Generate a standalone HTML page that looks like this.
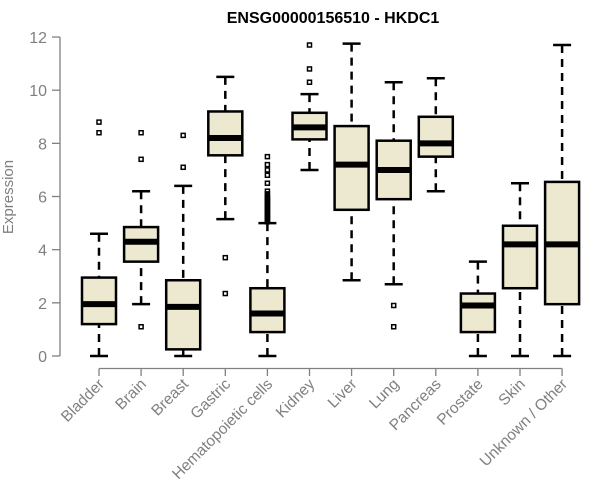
<!DOCTYPE html>
<html><head><meta charset="utf-8"><style>
body{margin:0;background:#fff;}
svg{display:block;font-family:"Liberation Sans",sans-serif;}
</style></head><body>
<svg id="chart" width="600" height="500">
<text x="333" y="23" text-anchor="middle" font-weight="bold" font-size="16">ENSG00000156510 - HKDC1</text>
<text transform="translate(13,197) rotate(-90)" text-anchor="middle" font-size="15" fill="#808080">Expression</text>
<g id="axes"></g>
<g id="marks"></g>
</svg>
<script>
const categories=["Bladder","Brain","Breast","Gastric","Hematopoietic cells","Kidney","Liver","Lung","Pancreas","Prostate","Skin","Unknown / Other"];
const lowW=[0,1.95,0,5.15,0,7.0,2.85,2.7,6.2,0,0,0];
const q1=[1.2,3.55,0.25,7.55,0.9,8.15,5.5,5.9,7.5,0.9,2.55,1.95];
const med=[1.95,4.3,1.85,8.2,1.6,8.6,7.2,7.0,8.0,1.9,4.2,4.2];
const q3=[2.95,4.85,2.85,9.2,2.55,9.15,8.65,8.1,9.0,2.35,4.9,6.55];
const highW=[4.6,6.2,6.4,10.5,5.0,9.85,11.75,10.3,10.45,3.55,6.5,11.7];
const outliers=[[8.4,8.8],[1.1,7.4,8.4],[7.1,8.3],[2.35,3.7],[5.05,5.1,5.15,5.2,5.25,5.3,5.35,5.4,5.45,5.5,5.55,5.6,5.65,5.7,5.75,5.8,5.85,5.9,5.95,6.0,6.1,6.2,6.5,6.8,7.0,7.2,7.5],[10.3,10.8,11.7],[],[1.1,1.9],[],[],[],[]];
const yTicks=[0,2,4,6,8,10,12];
const NS="http://www.w3.org/2000/svg";
const y=v=>356-v*26.58;
const x=i=>99+i*42.1;
function mk(tag,attrs,parent){const e=document.createElementNS(NS,tag);for(const k in attrs)e.setAttribute(k,attrs[k]);parent.appendChild(e);return e;}
const axes=document.getElementById('axes'),marks=document.getElementById('marks');
let a=mk('line',{x1:60,y1:y(0),x2:60,y2:y(12),stroke:'#808080','stroke-width':1.3},axes);


yTicks.forEach(t=>{
 let l=mk('line',{x1:52,x2:60,y1:y(t),y2:y(t),stroke:'#808080','stroke-width':1.3},axes);
 
 
 let tx=mk('text',{x:47,y:y(t)+6,'text-anchor':'end','font-size':16,fill:'#808080'},axes);
 tx.textContent=t;
 
 
});
a=mk('line',{x1:x(0),x2:x(11),y1:368.5,y2:368.5,stroke:'#808080','stroke-width':1.3},axes);


categories.forEach((c,i)=>{
 let l=mk('line',{x1:x(i),x2:x(i),y1:368.5,y2:376,stroke:'#808080','stroke-width':1.3},axes);
 
 
 let tx=mk('text',{transform:`translate(${x(i)+6},${385}) rotate(-45)`,'text-anchor':'end','font-size':15.5,fill:'#808080'},axes);
 tx.textContent=c;
 
 
 const g=mk('g',{},marks);
 
 
 const cx=x(i),hw=17;
 mk('line',{x1:cx,x2:cx,y1:y(lowW[i]),y2:y(q1[i]),stroke:'#000','stroke-width':2.5,'stroke-dasharray':'8,6'},g);
 mk('line',{x1:cx,x2:cx,y1:y(highW[i]),y2:y(q3[i]),stroke:'#000','stroke-width':2.5,'stroke-dasharray':'8,6'},g);
 mk('line',{x1:cx-9,x2:cx+9,y1:y(lowW[i]),y2:y(lowW[i]),stroke:'#000','stroke-width':2.5},g);
 mk('line',{x1:cx-9,x2:cx+9,y1:y(highW[i]),y2:y(highW[i]),stroke:'#000','stroke-width':2.5},g);
 mk('rect',{x:cx-hw,y:y(q3[i]),width:hw*2,height:y(q1[i])-y(q3[i]),fill:'#ede8d0',stroke:'#000','stroke-width':2.5},g);
 mk('line',{x1:cx-hw,x2:cx+hw,y1:y(med[i]),y2:y(med[i]),stroke:'#000','stroke-width':6},g);
 outliers[i].forEach(o=>{
  let r=mk('rect',{x:cx-2,y:y(o)-2,width:4,height:4,fill:'none',stroke:'#000','stroke-width':1.5},g);
  
  
 });
});
</script>
</body></html>
